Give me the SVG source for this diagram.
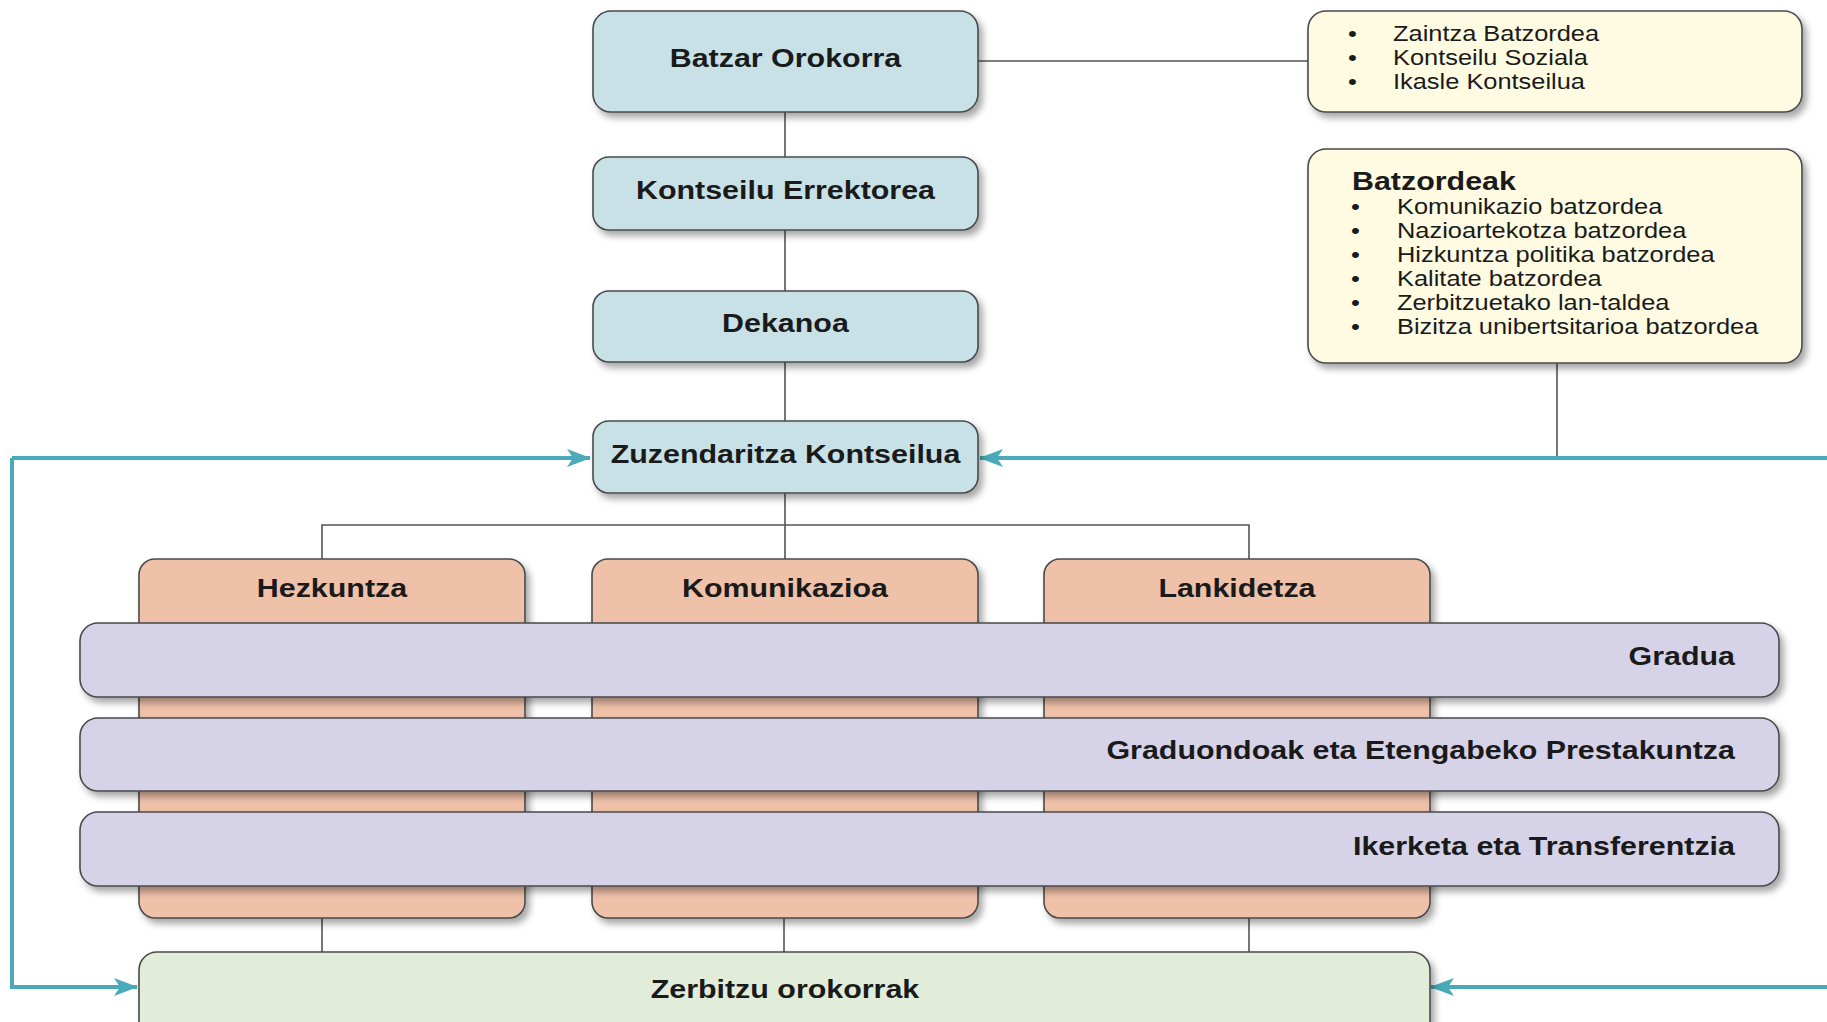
<svg xmlns="http://www.w3.org/2000/svg" width="1827" height="1022" viewBox="0 0 1827 1022">
  <defs>
    <filter id="sh" x="-10%" y="-20%" width="125%" height="150%">
      <feDropShadow dx="4" dy="5" stdDeviation="3.5" flood-color="#000" flood-opacity="0.35"/>
    </filter>
    <marker id="arr" viewBox="0 0 24 18" refX="23" refY="9" markerWidth="24" markerHeight="18" markerUnits="userSpaceOnUse" orient="auto">
      <path d="M0,0 L24,9 L0,18 L6,9 Z" fill="#4aaab8"/>
    </marker>
    <style>
      .box { stroke: #4a4a4a; stroke-width: 1.6; filter: url(#sh); }
      .blue { fill: #c7e1e7; }
      .yellow { fill: #fefbe2; }
      .orange { fill: #efc1a9; }
      .purple { fill: #d6d3e8; }
      .green { fill: #e1edd8; }
      .line { stroke: #555; stroke-width: 1.6; fill: none; }
      .teal { stroke: #4aaab8; stroke-width: 4; fill: none; }
      text { font-family: "Liberation Sans", Arial, sans-serif; fill: #1a1a1a; transform-box: fill-box; }
      .b { font-weight: bold; font-size: 26px; transform: scaleX(1.17); }
      .r { font-size: 22px; transform: scaleX(1.155); }
      .m { text-anchor: middle; transform-origin: center; }
      .s { text-anchor: start; transform-origin: left center; }
      .e { text-anchor: end; transform-origin: right center; }
    </style>
  </defs>

  <g id="connectors">
    <line class="line" x1="978" y1="61" x2="1308" y2="61"/>
    <line class="line" x1="785" y1="112" x2="785" y2="157"/>
    <line class="line" x1="785" y1="230" x2="785" y2="291"/>
    <line class="line" x1="785" y1="362" x2="785" y2="421"/>
    <line class="line" x1="785" y1="493" x2="785" y2="559"/>
    <polyline class="line" points="322,559 322,525 1249,525 1249,559"/>
    <line class="line" x1="1557" y1="363" x2="1557" y2="458"/>
    <line class="line" x1="322" y1="918" x2="322" y2="952"/>
    <line class="line" x1="784" y1="918" x2="784" y2="952"/>
    <line class="line" x1="1249" y1="918" x2="1249" y2="952"/>
    <polyline class="teal" points="12,458 12,987 137,987" marker-end="url(#arr)"/>
    <line class="teal" x1="12" y1="458" x2="590" y2="458" marker-end="url(#arr)"/>
    <line class="teal" x1="1827" y1="458" x2="980" y2="458" marker-end="url(#arr)"/>
    <line class="teal" x1="1827" y1="987" x2="1431" y2="987" marker-end="url(#arr)"/>
  </g>

  <g id="n-batzar">
    <rect class="box blue" x="593" y="11" width="385" height="101" rx="18"/>
    <text class="b m" x="785.5" y="67">Batzar Orokorra</text>
  </g>
  <g id="n-kontseilu">
    <rect class="box blue" x="593" y="157" width="385" height="73" rx="16"/>
    <text class="b m" x="785.5" y="199.5">Kontseilu Errektorea</text>
  </g>
  <g id="n-dekanoa">
    <rect class="box blue" x="593" y="291" width="385" height="71" rx="16"/>
    <text class="b m" x="785.5" y="332.5">Dekanoa</text>
  </g>
  <g id="n-zuzendaritza">
    <rect class="box blue" x="593" y="421" width="385" height="72" rx="16"/>
    <text class="b m" x="785.5" y="463">Zuzendaritza Kontseilua</text>
  </g>

  <g id="n-organoak">
    <rect class="box yellow" x="1308" y="11" width="494" height="101" rx="18"/>
    <text class="r s" x="1348" y="41">•</text>
    <text class="r s" x="1393" y="41">Zaintza Batzordea</text>
    <text class="r s" x="1348" y="65">•</text>
    <text class="r s" x="1393" y="65">Kontseilu Soziala</text>
    <text class="r s" x="1348" y="89.5">•</text>
    <text class="r s" x="1393" y="89.5">Ikasle Kontseilua</text>
  </g>

  <g id="n-batzordeak">
    <rect class="box yellow" x="1308" y="149" width="494" height="214" rx="18"/>
    <text class="b s" x="1352" y="190">Batzordeak</text>
    <text class="r s" x="1351" y="214">•</text>
    <text class="r s" x="1397" y="214">Komunikazio batzordea</text>
    <text class="r s" x="1351" y="238">•</text>
    <text class="r s" x="1397" y="238">Nazioartekotza batzordea</text>
    <text class="r s" x="1351" y="262">•</text>
    <text class="r s" x="1397" y="262">Hizkuntza politika batzordea</text>
    <text class="r s" x="1351" y="286">•</text>
    <text class="r s" x="1397" y="286">Kalitate batzordea</text>
    <text class="r s" x="1351" y="310">•</text>
    <text class="r s" x="1397" y="310">Zerbitzuetako lan-taldea</text>
    <text class="r s" x="1351" y="334">•</text>
    <text class="r s" x="1397" y="334">Bizitza unibertsitarioa batzordea</text>
  </g>

  <g id="n-hezkuntza">
    <rect class="box orange" x="139" y="559" width="386" height="359" rx="16"/>
    <text class="b m" x="332" y="597">Hezkuntza</text>
  </g>
  <g id="n-komunikazioa">
    <rect class="box orange" x="592" y="559" width="386" height="359" rx="16"/>
    <text class="b m" x="785" y="597">Komunikazioa</text>
  </g>
  <g id="n-lankidetza">
    <rect class="box orange" x="1044" y="559" width="386" height="359" rx="16"/>
    <text class="b m" x="1237" y="597">Lankidetza</text>
  </g>

  <g id="n-gradua">
    <rect class="box purple" x="80" y="623" width="1699" height="74" rx="18"/>
    <text class="b e" x="1735" y="665">Gradua</text>
  </g>
  <g id="n-graduondoak">
    <rect class="box purple" x="80" y="718" width="1699" height="73" rx="18"/>
    <text class="b e" x="1735" y="759">Graduondoak eta Etengabeko Prestakuntza</text>
  </g>
  <g id="n-ikerketa">
    <rect class="box purple" x="80" y="812" width="1699" height="74" rx="18"/>
    <text class="b e" x="1735" y="855">Ikerketa eta Transferentzia</text>
  </g>

  <g id="n-zerbitzu">
    <rect class="box green" x="139" y="952" width="1291" height="110" rx="18"/>
    <text class="b m" x="785" y="998">Zerbitzu orokorrak</text>
  </g>
</svg>
